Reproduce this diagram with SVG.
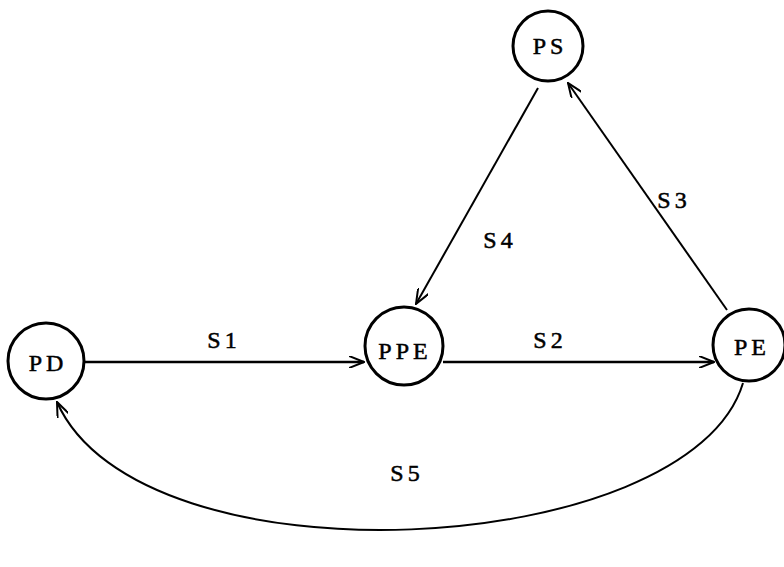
<svg xmlns="http://www.w3.org/2000/svg" width="784" height="567" viewBox="0 0 784 567">
<defs>
<style>
.node{fill:none;stroke:#000;stroke-width:3}
.lbl{font-family:"Liberation Serif",serif;font-size:24px;letter-spacing:4px;text-anchor:middle;dominant-baseline:central;fill:#000;stroke:#000;stroke-width:0.5}
.edge{fill:none;stroke:#000;stroke-width:2}
.thick{stroke-width:2.6}
</style>
<marker id="arr" viewBox="0 0 16 12" refX="15" refY="6" markerWidth="16" markerHeight="12" markerUnits="userSpaceOnUse" orient="auto">
<path d="M0 0 L15 6 L0 12" fill="none" stroke="#000" stroke-width="2"/>
</marker>
</defs>
<rect width="784" height="567" fill="#fff"/>
<g id="connectors">
<path id="e-s1" class="edge thick" d="M85 362 L364 362" marker-end="url(#arr)"/>
<path id="e-s2" class="edge thick" d="M443 362 L714 362" marker-end="url(#arr)"/>
<path id="e-s4" class="edge" d="M538 88 L416 304" marker-end="url(#arr)"/>
<path id="e-s3" class="edge" d="M727 310 L568 83" marker-end="url(#arr)"/>
<path id="e-s5" class="edge" d="M743 383 C690 560 140 590 57 402" marker-end="url(#arr)"/>
<text class="lbl" x="224" y="340">S1</text>
<text class="lbl" x="550" y="340">S2</text>
<text class="lbl" x="674" y="200">S3</text>
<text class="lbl" x="500" y="240">S4</text>
<text class="lbl" x="407" y="473">S5</text>
</g>
<g id="PS"><circle class="node" cx="548" cy="46" r="35"/><text class="lbl" x="550" y="46">PS</text></g>
<g id="PD"><circle class="node" cx="46" cy="361" r="38"/><text class="lbl" x="48" y="363">PD</text></g>
<g id="PPE"><circle class="node" cx="404" cy="346" r="39"/><text class="lbl" x="405" y="351">PPE</text></g>
<g id="PE"><circle class="node" cx="749" cy="345" r="36"/><text class="lbl" x="752" y="347">PE</text></g>
</svg>
